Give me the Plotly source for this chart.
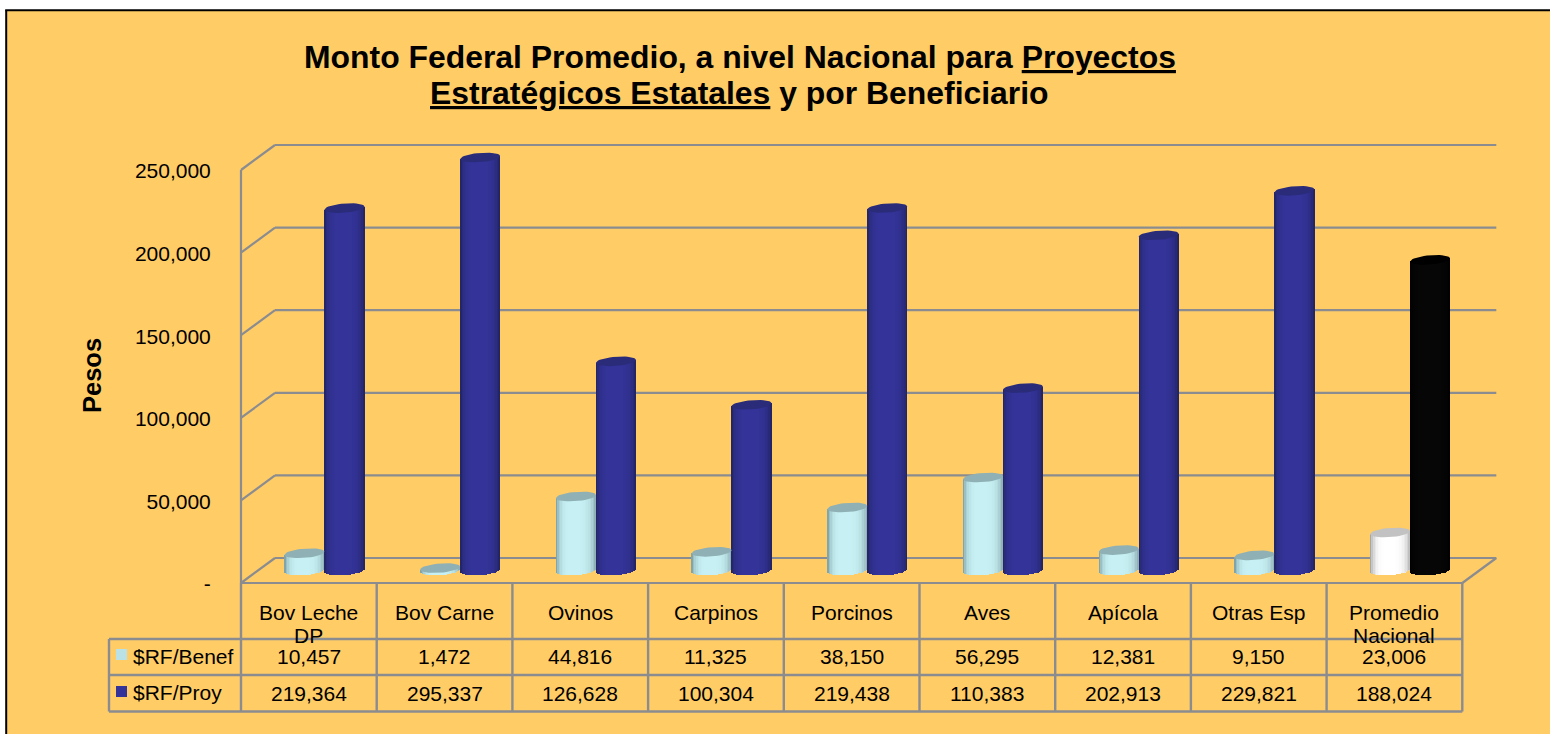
import math
import plotly.graph_objects as go

# ---- data ----
categories = ["Bov Leche<br>DP", "Bov Carne", "Ovinos", "Carpinos", "Porcinos", "Aves",
              "Apícola", "Otras Esp", "Promedio<br>Nacional"]
rf_benef = [10457, 1472, 44816, 11325, 38150, 56295, 12381, 9150, 23006]
rf_proy = [219364, 295337, 126628, 100304, 219438, 110383, 202913, 229821, 188024]
series_names = ["$RF/Benef", "$RF/Proy"]
y_ticks = [0, 50000, 100000, 150000, 200000, 250000]
y_tick_labels = ["-", "50,000", "100,000", "150,000", "200,000", "250,000"]
title_lines = ["<b>Monto Federal Promedio, a nivel Nacional para <u>Proyectos</u></b>",
               "<b><u>Estratégicos Estatales</u> y por Beneficiario</b>"]
y_title = "Pesos"
AXIS_MAX = 250000

# ---- geometry / style ----
W, H = 1550, 734
PLOT_R, PLOT_T, PLOT_B = 1520, 120, 600
CAT_W = 135.7
X0_PX = 324.5
Y0_PX = 570.5
PX_PER_VAL = 82.6 / 50000
DEPTH_X, DEPTH_Y = 17.0, 12.5
BAR_W = 40.0
CAP_B, CAP_TILT = 4.6, 1.5
N_SLICES = 26
BG = "#FFCC66"
GRID = "#8B8C90"
FONT = "Liberation Sans, Arial, sans-serif"
FL = X0_PX - 83.5
FR = FL + CAT_W * len(categories)
BL, BR = FL + 2 * DEPTH_X, FR + 2 * DEPTH_X
PLOT_L = FL - 5


def xv(px):
    return (px - X0_PX) / CAT_W


def yv(px):
    return (Y0_PX - px) / PX_PER_VAL


def xp(px):
    return px / W


def yp(px):
    return 1 - px / H


def mix(c1, c2, t):
    return "rgb(%d,%d,%d)" % tuple(round(a + (b - a) * t) for a, b in zip(c1, c2))


LIGHT = ((110, 142, 148), (198, 240, 243), (130, 162, 168), (143, 176, 181))
BLUE = ((32, 34, 92), (51, 51, 153), (32, 34, 92), (42, 44, 122))
WHITE = ((140, 140, 140), (255, 255, 255), (175, 175, 175), (194, 194, 194))
BLACK = ((0, 0, 0), (6, 6, 6), (0, 0, 0), (0, 0, 0))


def shade(pal, u):
    # horizontal shading of a cylinder, u in [-1, 1]
    peak = -0.1
    t = (u - peak) / (1 - peak) if u > peak else (peak - u) / (1 + peak)
    k = (1 - t ** 4) ** 0.8
    return mix(pal[2] if u > peak else pal[0], pal[1], k)


fig = go.Figure()


def add_cylinders(values, side, palette, last_palette):
    cx = [i + side * BAR_W / 2 / CAT_W for i in range(len(values))]
    clipped = [min(v, AXIS_MAX) for v in values]
    sw = 1.0 / N_SLICES
    for s in range(N_SLICES):
        u = -1 + (2 * s + 1) * sw
        dx = u * BAR_W / 2 / CAT_W
        low = (CAP_TILT * u - CAP_B * math.sqrt(max(0, 1 - u * u))) / PX_PER_VAL
        high = CAP_TILT * u / PX_PER_VAL
        fig.add_bar(
            x=[c + dx for c in cx],
            y=[v + high - low for v in clipped],
            base=low,
            width=BAR_W / CAT_W / N_SLICES * 1.25,
            marker=dict(color=[shade(palette if i < len(values) - 1 else last_palette, u)
                               for i in range(len(values))], line_width=0),
            hoverinfo="skip", showlegend=False,
        )
    for group, pal in ((range(len(values) - 1), palette), ([len(values) - 1], last_palette)):
        xs, ys = [], []
        for i in group:
            for k in range(41):
                t = 2 * math.pi * k / 40
                xs.append(cx[i] + math.cos(t) * BAR_W / 2 / CAT_W)
                ys.append(clipped[i] + (CAP_B * math.sin(t) + CAP_TILT * math.cos(t)) / PX_PER_VAL)
            xs.append(None)
            ys.append(None)
        fig.add_scatter(x=xs, y=ys, mode="lines", fill="toself",
                        fillcolor=mix(pal[3], pal[3], 0), line=dict(width=0),
                        hoverinfo="skip", showlegend=False)


add_cylinders(rf_benef, -1, LIGHT, WHITE)
add_cylinders(rf_proy, 1, BLUE, BLACK)

# ---- chrome ----
shapes = [
    dict(type="rect", xref="paper", yref="paper", x0=xp(6.2), x1=1, y0=0, y1=yp(10.2),
         fillcolor=BG, line_width=0, layer="below"),
    dict(type="line", xref="paper", yref="paper", x0=xp(6.2), x1=xp(6.2), y0=0, y1=yp(10.2),
         line=dict(color="black", width=2), layer="below"),
    dict(type="line", xref="paper", yref="paper", x0=xp(5.2), x1=1, y0=yp(10.2), y1=yp(10.2),
         line=dict(color="black", width=2), layer="below"),
]


def seg(px0, py0, px1, py1, layer="below", width=2.2):
    shapes.append(dict(type="line", xref="paper", yref="paper", x0=xp(px0), x1=xp(px1),
                       y0=yp(py0), y1=yp(py1), line=dict(color=GRID, width=width), layer=layer))


for v in y_ticks:
    py = Y0_PX - v * PX_PER_VAL
    seg(FL, py + DEPTH_Y, BL, py - DEPTH_Y)
    seg(BL, py - DEPTH_Y, BR, py - DEPTH_Y)
seg(FL, Y0_PX + DEPTH_Y, FL, Y0_PX - AXIS_MAX * PX_PER_VAL + DEPTH_Y)
seg(FL, Y0_PX + DEPTH_Y, FR, Y0_PX + DEPTH_Y)
seg(FR, Y0_PX + DEPTH_Y, BR, Y0_PX - DEPTH_Y)

# data table
ROWS = [639, 675, 711.5]
TBL_L = 109
for i in range(len(categories) + 1):
    px = FL + i * CAT_W
    seg(px, Y0_PX + DEPTH_Y, px, ROWS[-1], layer="above", width=2.4)
seg(TBL_L, ROWS[0], TBL_L, ROWS[-1], layer="above", width=2.4)
for py in ROWS:
    seg(TBL_L, py, FR, py, layer="above", width=2.4)

# legend keys
for py, col in ((649, "#B9E1E6"), (686, "#333399")):
    shapes.append(dict(type="rect", xref="paper", yref="paper", x0=xp(116), x1=xp(127),
                       y0=yp(py), y1=yp(py + 11), fillcolor=col, line_width=0, layer="above"))


def label(text, px, py, size=21, anchor="center", angle=0):
    return dict(text=text, xref="paper", yref="paper", x=xp(px), y=yp(py), xanchor=anchor,
                yanchor="middle", showarrow=False, textangle=angle,
                font=dict(size=size, family=FONT, color="black"))


annotations = [label(title_lines[0], 739.5, 57, 31.9), label(title_lines[1], 739, 93, 31.9),
               label("<b>%s</b>" % y_title, 92, 376, 25.5, angle=-90)]
for i, cat in enumerate(categories):
    cx = FL + (i + 0.5) * CAT_W
    for j, line in enumerate(cat.split("<br>")):
        annotations.append(label(line, cx, 612.5 + 23 * j))
    annotations.append(label(f"{rf_benef[i]:,}", cx, 656))
    annotations.append(label(f"{rf_proy[i]:,}", cx, 693))
annotations.append(label(series_names[0], 131, 656, anchor="left"))
annotations.append(label(series_names[1], 131, 692, anchor="left"))

fig.update_layout(
    width=W, height=H, autosize=False,
    margin=dict(l=0, r=0, t=0, b=0, pad=0),
    paper_bgcolor="white", plot_bgcolor="rgba(0,0,0,0)",
    barmode="overlay", bargap=0,
    showlegend=False, shapes=shapes, annotations=annotations,
    font=dict(family=FONT, color="black", size=21),
    xaxis=dict(domain=[xp(PLOT_L), xp(PLOT_R)], range=[xv(PLOT_L), xv(PLOT_R)], visible=False, fixedrange=True),
    yaxis=dict(domain=[yp(PLOT_B), yp(PLOT_T)], range=[yv(PLOT_B), yv(PLOT_T)],
               tickmode="array",
               tickvals=[v - 13.5 / PX_PER_VAL for v in y_ticks],
               ticktext=y_tick_labels,
               ticks="outside", ticklen=20, tickcolor="rgba(0,0,0,0)",
               showgrid=False, zeroline=False, showline=False, fixedrange=True,
               tickfont=dict(size=21, family=FONT, color="black")),
)

fig.write_html("out.html", config=dict(displayModeBar=False, staticPlot=True),
               post_script="document.body.style.margin='0';document.documentElement.style.overflow='hidden';")
